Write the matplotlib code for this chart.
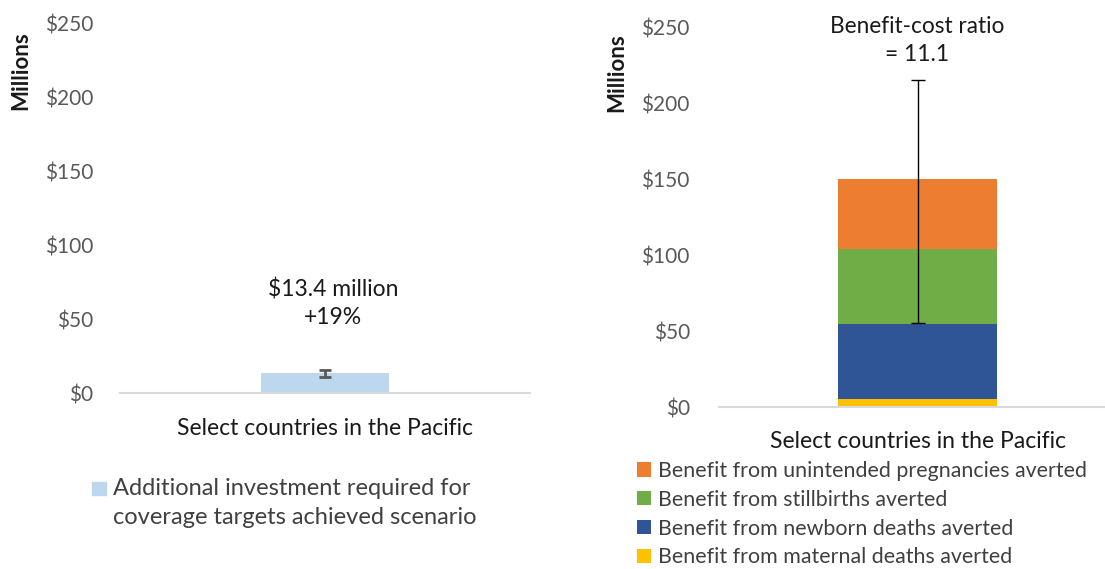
import matplotlib
matplotlib.use("Agg")
import matplotlib.pyplot as plt
from matplotlib.patches import Rectangle

# data
category = ['Select countries in the Pacific']
investment = [13.4]
investment_err_low = [2.6]
investment_err_high = [2.2]
investment_label = 'Additional investment required for\ncoverage targets achieved scenario'

benefit_labels = ['Benefit from maternal deaths averted',
                  'Benefit from newborn deaths averted',
                  'Benefit from stillbirths averted',
                  'Benefit from unintended pregnancies averted']
benefit_values = [5.0, 49.5, 49.5, 46.0]
benefit_colors = ['#FFC000', '#2F5597', '#70AD47', '#ED7D31']
benefit_err_low = [95.0]
benefit_err_high = [65.0]

yticks = [0, 50, 100, 150, 200, 250]
ytick_labels = ['$0', '$50', '$100', '$150', '$200', '$250']

plt.rcParams['font.family'] = ['Lato', 'DejaVu Sans']


def style_axis(ax, pad, xpad):
    ax.set_xlim(-0.5, 0.5)
    ax.set_ylim(0, 250)
    ax.set_yticks(yticks)
    ax.set_yticklabels(ytick_labels, fontsize=15, color='#595959')
    ax.tick_params(axis='y', length=0, pad=pad)
    ax.tick_params(axis='x', length=0, pad=xpad, labelsize=16.5,
                   labelcolor='#1a1a1a')
    for s in ['top', 'right', 'left']:
        ax.spines[s].set_visible(False)
    ax.spines['bottom'].set_color('#D9D9D9')
    ax.spines['bottom'].set_linewidth(1.5)
    ax.set_xticks([0])
    ax.set_xticklabels(category)


fig = plt.figure(figsize=(11.05, 5.69), dpi=100)

# left panel
ax1 = fig.add_axes([120 / 1105, 1 - 393 / 569, 410 / 1105, 369 / 569])
bars1 = ax1.bar([0], investment, width=0.312, color='#BDD7EE', zorder=2)
ax1.errorbar([0], investment, yerr=[investment_err_low, investment_err_high],
             fmt='none', ecolor='#595959', elinewidth=2, capsize=4,
             capthick=2, zorder=3)
style_axis(ax1, 19, 18)
ax1.text(0.02, investment[0] + 47.5, '$13.4 million\n+19%', ha='center',
         va='center', fontsize=16.5, linespacing=1.4, color='#1a1a1a')
fig.text(21 / 1105, 1 - 71 / 569, 'Millions', rotation=90, ha='center',
         va='center', fontsize=16, fontweight='bold', color='#1a1a1a')
# legend for left panel
fig.patches.append(Rectangle((92 / 1105, 1 - 495 / 569), 14 / 1105, 13 / 569,
                             transform=fig.transFigure,
                             color=bars1.patches[0].get_facecolor()))
fig.text(113 / 1105, 1 - 478 / 569, investment_label, ha='left', va='top',
         fontsize=17, linespacing=1.45, color='#404040')

# right panel
ax2 = fig.add_axes([719 / 1105, 1 - 407 / 569, 397 / 1105, 380 / 569])
bottom = 0
handles = []
for val, col, lab in zip(benefit_values, benefit_colors, benefit_labels):
    b = ax2.bar([0], [val], bottom=bottom, width=0.40, color=col, zorder=2,
                label=lab)
    handles.append(b)
    bottom += val
total = [sum(benefit_values)]
ax2.errorbar([0], total, yerr=[benefit_err_low, benefit_err_high], fmt='none',
             ecolor='black', elinewidth=1, capsize=5, capthick=1, zorder=3)
style_axis(ax2, 21, 17)
ax2.text(0, 241, 'Benefit-cost ratio\n= 11.1', ha='center', va='center',
         fontsize=16.3, linespacing=1.4, color='#1a1a1a')
fig.text(617 / 1105, 1 - 73 / 569, 'Millions', rotation=90, ha='center',
         va='center', fontsize=16, fontweight='bold', color='#1a1a1a')
fig.legend(handles[::-1], benefit_labels[::-1], loc='upper left',
           bbox_to_anchor=(622 / 1105, 1 - 446 / 569), frameon=False,
           fontsize=15.4, handlelength=0.65, handleheight=0.65,
           handletextpad=0.35, labelspacing=0.41, labelcolor='#404040',
           borderpad=0.2)

fig.savefig('out.png', dpi=100)
